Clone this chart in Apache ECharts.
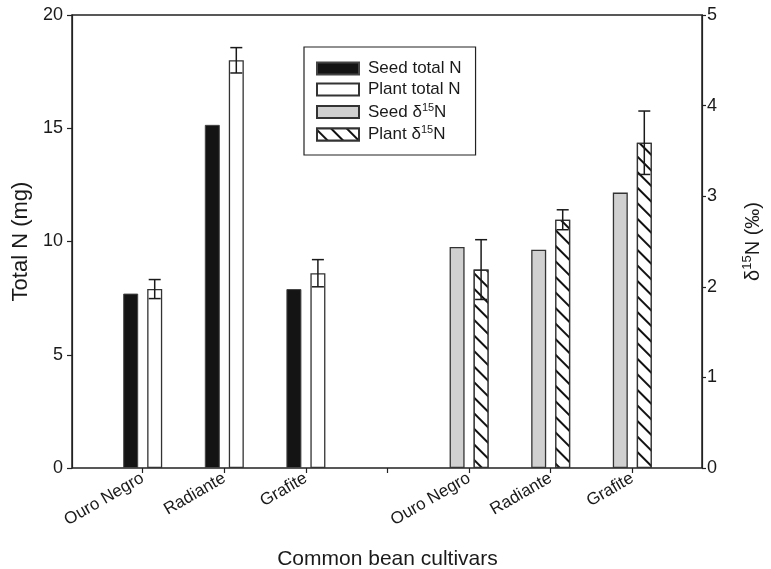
<!DOCTYPE html>
<html>
<head>
<meta charset="utf-8">
<script src="https://cdn.jsdelivr.net/npm/echarts@6/dist/echarts.min.js"></script>
<style>html,body{margin:0;padding:0;background:#fff}#c{width:771px;height:569px}</style>
</head>
<body>
<div id="c"></div>
<script>
// ---- data ----
var cultivars = ['Ouro Negro', 'Radiante', 'Grafite'];
var seedTotalN = [7.7, 15.15, 7.9];
var plantTotalN = [7.9, 18.0, 8.6];
var plantTotalNErr = [0.42, 0.56, 0.6];
var seedD15N = [2.44, 2.41, 3.04];
var plantD15N = [2.19, 2.74, 3.59];
var plantD15NErr = [0.33, 0.11, 0.35];
var leftTicks = [0, 5, 10, 15, 20];
var rightTicks = [0, 1, 2, 3, 4, 5];

// ---- build ----
var categories = cultivars.concat(['']).concat(cultivars);
var gapN = cultivars.length + 1;
function padLeft(arr) { return arr.concat(new Array(categories.length - arr.length).fill('-')); }
function padRight(arr) { return new Array(gapN).fill('-').concat(arr); }
function errData(vals, errs, start) {
  return vals.map(function (v, i) { return [start + i, v, errs[i]]; });
}
var BW = 15, GAP = 9, OFF = (BW + GAP) / 2;
function errRender(params, api) {
  var idx = api.value(0), v = api.value(1), e = api.value(2);
  var top = api.coord([idx, v + e]);
  var bot = api.coord([idx, v - e]);
  var x = top[0] + OFF;
  var half = 6;
  var st = { stroke: '#1a1a1a', lineWidth: 1.5 };
  return {
    type: 'group',
    children: [
      { type: 'line', shape: { x1: x, y1: top[1], x2: x, y2: bot[1] }, style: st },
      { type: 'line', shape: { x1: x - half, y1: top[1], x2: x + half, y2: top[1] }, style: st },
      { type: 'line', shape: { x1: x - half, y1: bot[1], x2: x + half, y2: bot[1] }, style: st }
    ]
  };
}
var FONT = 'Liberation Sans, Arial, sans-serif';
var txt = '#1a1a1a';
var rich = {
  n: { fontSize: 17, lineHeight: 20, color: txt, fontFamily: FONT },
  sup: { fontSize: 11, lineHeight: 20, color: txt, fontFamily: FONT, verticalAlign: 'top', padding: [0, 0, 7, 0] }
};

var chart = echarts.init(document.getElementById('c'), null, { renderer: 'canvas' });
var option = {
  animation: false,
  backgroundColor: '#fff',
  textStyle: { fontFamily: FONT },
  grid: [
    { left: 72, right: 69, top: 15, bottom: 101, show: true, borderColor: '#222', borderWidth: 1.5, backgroundColor: 'transparent', containLabel: false, outerBoundsMode: 'none' },
    { left: 101.9, right: 97.9, top: 15, bottom: 101, containLabel: false, outerBoundsMode: 'none' }
  ],
  xAxis: [
    { gridIndex: 0, type: 'value', min: 0, max: 1, show: false },
    {
      gridIndex: 1, type: 'category', data: categories, boundaryGap: true,
      axisLine: { show: false },
      axisTick: { show: true, alignWithLabel: true, length: 5, lineStyle: { color: '#222', width: 1.2 } },
      axisLabel: { rotate: 30, fontSize: 17, color: txt, margin: 9, interval: 0 },
      name: 'Common bean cultivars', nameLocation: 'middle', nameGap: 81,
      nameTextStyle: { fontSize: 21, color: txt }
    },
    { gridIndex: 1, type: 'category', data: categories, show: false }
  ],
  yAxis: [
    {
      gridIndex: 0, type: 'value', min: leftTicks[0], max: leftTicks[leftTicks.length - 1], interval: leftTicks[1] - leftTicks[0],
      position: 'left',
      axisLine: { show: true, lineStyle: { color: '#222', width: 1.2 } },
      axisTick: { show: true, length: 5, lineStyle: { color: '#222', width: 1.2 } },
      axisLabel: { fontSize: 18, color: txt, margin: 9 },
      splitLine: { show: false },
      name: 'Total N (mg)', nameLocation: 'middle', nameGap: 36, nameRotate: 90,
      nameTextStyle: { fontSize: 22, color: txt }
    },
    {
      gridIndex: 0, type: 'value', min: rightTicks[0], max: rightTicks[rightTicks.length - 1], interval: rightTicks[1] - rightTicks[0],
      position: 'right',
      axisLine: { show: true, lineStyle: { color: '#222', width: 1.2 } },
      axisTick: { show: true, length: 4, lineStyle: { color: '#222', width: 1.2 } },
      axisLabel: { fontSize: 18, color: txt, margin: 5 },
      splitLine: { show: false },
      name: '{d|δ}{s|15}{d|N (‰)}', nameLocation: 'middle', nameGap: 39, nameRotate: 90,
      nameTextStyle: {
        rich: {
          d: { fontSize: 20, color: txt, lineHeight: 24, fontFamily: FONT },
          s: { fontSize: 13, color: txt, lineHeight: 24, verticalAlign: 'top', padding: [0, 0, 9, 0], fontFamily: FONT }
        }
      }
    },
    { gridIndex: 1, type: 'value', min: leftTicks[0], max: leftTicks[leftTicks.length - 1], show: false, splitLine: { show: false } },
    { gridIndex: 1, type: 'value', min: rightTicks[0], max: rightTicks[rightTicks.length - 1], show: false, splitLine: { show: false } }
  ],
  legend: {
    orient: 'vertical', left: 304, top: 47,
    padding: [13, 14, 12, 12],
    borderColor: '#222', borderWidth: 1.2,
    icon: 'rect', itemWidth: 42, itemHeight: 12, itemGap: 4,
    selectedMode: false,
    data: ['Seed total N', 'Plant total N', 'Seed δ15N', 'Plant δ15N'],
    formatter: function (name) {
      if (name.indexOf('δ15N') >= 0) {
        return '{n|' + name.replace('δ15N', 'δ') + '}{sup|15}{n|N}';
      }
      return '{n|' + name + '}';
    },
    textStyle: { rich: rich, padding: [0, 0, 0, 4] }
  },
  series: [
    {
      name: 'Seed total N', type: 'bar', xAxisIndex: 1, yAxisIndex: 2,
      barWidth: BW, barGap: (GAP / BW * 100) + '%',
      data: padLeft(seedTotalN),
      itemStyle: { color: '#141414', borderColor: '#444', borderWidth: 1 }
    },
    {
      name: 'Plant total N', type: 'bar', xAxisIndex: 1, yAxisIndex: 2,
      barWidth: BW, barGap: (GAP / BW * 100) + '%',
      data: padLeft(plantTotalN),
      itemStyle: { color: '#fff', borderColor: '#333', borderWidth: 1.3 }
    },
    {
      name: 'Seed δ15N', type: 'bar', xAxisIndex: 2, yAxisIndex: 3,
      barWidth: BW, barGap: (GAP / BW * 100) + '%',
      data: padRight(seedD15N),
      itemStyle: { color: '#d0d0d0', borderColor: '#333', borderWidth: 1.3 }
    },
    {
      name: 'Plant δ15N', type: 'bar', xAxisIndex: 2, yAxisIndex: 3,
      barWidth: BW, barGap: (GAP / BW * 100) + '%',
      data: padRight(plantD15N),
      itemStyle: {
        color: '#fff', borderColor: '#333', borderWidth: 1.3,
        decal: { symbol: 'rect', symbolSize: 1, dashArrayX: [1, 0], dashArrayY: [1.3, 8.7], rotation: Math.PI / 4, color: '#111', backgroundColor: '#fff' }
      }
    },
    {
      type: 'custom', xAxisIndex: 1, yAxisIndex: 2, renderItem: errRender, z: 5,
      encode: { x: 0, y: 1 }, data: errData(plantTotalN, plantTotalNErr, 0)
    },
    {
      type: 'custom', xAxisIndex: 2, yAxisIndex: 3, renderItem: errRender, z: 5,
      encode: { x: 0, y: 1 }, data: errData(plantD15N, plantD15NErr, gapN)
    }
  ]
};
chart.setOption(option);
</script>
</body>
</html>
